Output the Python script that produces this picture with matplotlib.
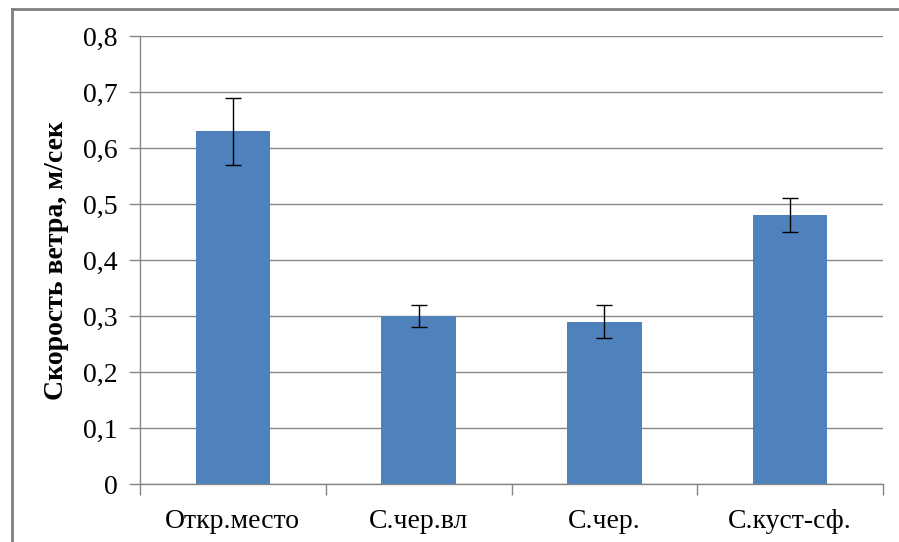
import numpy as np
import matplotlib
matplotlib.use('Agg')
import matplotlib.pyplot as plt
from matplotlib.lines import Line2D

# data
categories = ['Откр.место', 'С.чер.вл', 'С.чер.', 'С.куст-сф.']
speeds = [0.63, 0.30, 0.29, 0.48]
errors = [0.06, 0.02, 0.03, 0.03]
yticks = [0, 0.1, 0.2, 0.3, 0.4, 0.5, 0.6, 0.7, 0.8]

plt.rcParams['font.family'] = ['Liberation Serif', 'DejaVu Serif']

fig = plt.figure(figsize=(8.99, 5.42), dpi=100)
ax = fig.add_axes([140/899, 1-484/542, (883-140)/899, (484-36)/542])

x = np.arange(len(categories))
ax.bar(x, speeds, width=0.4, color='#4F81BD', zorder=3)
ax.errorbar(x, speeds, yerr=errors, fmt='none', ecolor='black',
            elinewidth=1.0, capsize=6, capthick=1.0, zorder=4)

ax.set_xlim(-0.5, len(categories) - 0.5)
ax.set_ylim(0, 0.8)
ax.set_yticks(yticks)
ax.set_yticklabels([('%.1f' % v).replace('.', ',') if v else '0' for v in yticks])
ax.yaxis.grid(True, color='#868686', linewidth=1.0, zorder=0)

# category ticks between groups
ax.set_xticks(x)
ax.set_xticklabels(categories)
ax.tick_params(axis='x', length=0, labelsize=20, pad=18)
ax.set_xticks(np.arange(-0.5, len(categories)), minor=True)
ax.tick_params(axis='x', which='minor', length=8, color='#868686', width=1.0)
ax.tick_params(axis='y', length=8, color='#868686', width=1.0, labelsize=20, pad=8)

for s in ['top', 'right']:
    ax.spines[s].set_visible(False)
for s in ['left', 'bottom']:
    ax.spines[s].set_color('#868686')
    ax.spines[s].set_linewidth(1.0)

ax.set_ylabel('Скорость ветра, м/сек', fontsize=20, fontweight='bold', labelpad=10)

# outer frame (only top and left edges visible in the picture)
fig.add_artist(Line2D([12/899, 12/899], [0, 1-9/542], color='#7f7f7f', linewidth=2))
fig.add_artist(Line2D([12/899, 1], [1-9/542, 1-9/542], color='#7f7f7f', linewidth=2))

fig.savefig('out.png', dpi=100)
